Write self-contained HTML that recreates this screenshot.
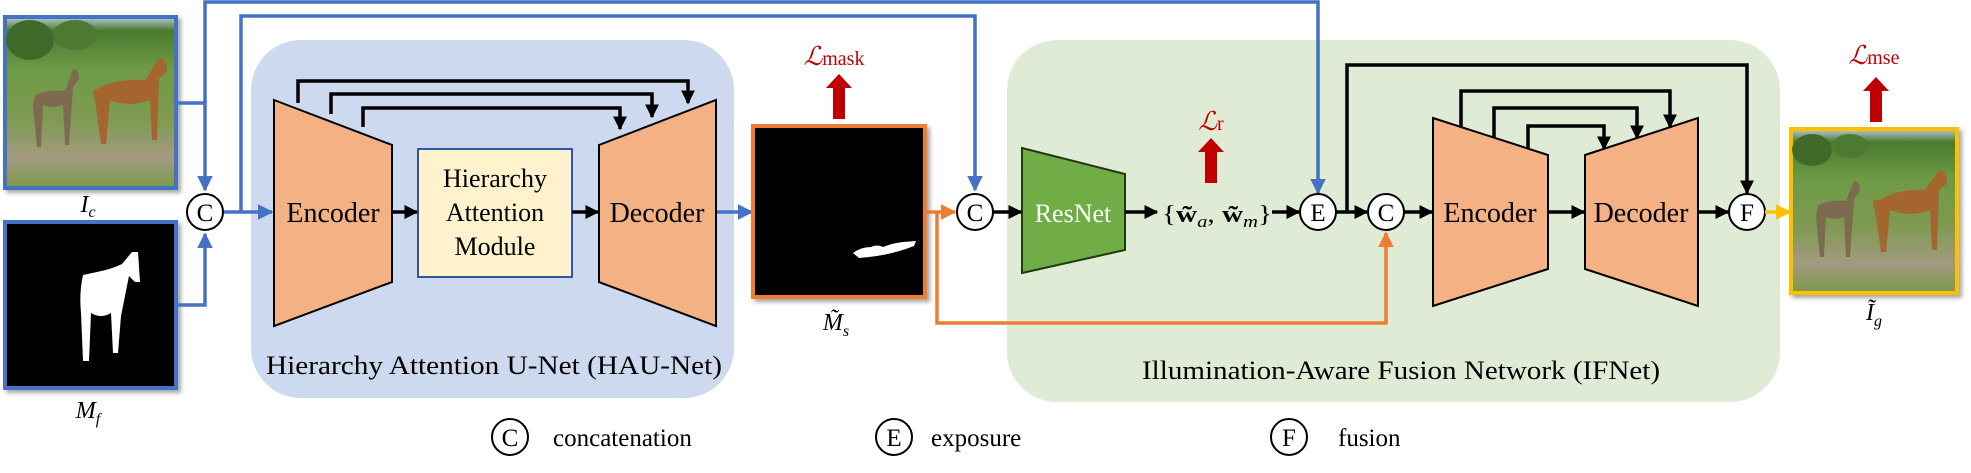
<!DOCTYPE html>
<html><head><meta charset="utf-8"><style>
html,body{margin:0;padding:0;background:#fff;}
svg{display:block;}
svg text, svg tspan{font-family:"Liberation Serif","DejaVu Serif",serif;}
</style></head><body>
<svg width="1971" height="473" viewBox="0 0 1971 473" xmlns="http://www.w3.org/2000/svg" font-family="Liberation Serif, serif">
<defs>
<marker id="ab" viewBox="0 0 10 10" refX="9" refY="5" markerWidth="4" markerHeight="4" orient="auto"><path d="M0,0L10,5L0,10z" fill="#000"/></marker>
<marker id="abl" viewBox="0 0 10 10" refX="9" refY="5" markerWidth="4.5" markerHeight="4.5" orient="auto"><path d="M0,0L10,5L0,10z" fill="#4472c4"/></marker>
<marker id="aor" viewBox="0 0 10 10" refX="9" refY="5" markerWidth="4.5" markerHeight="4.5" orient="auto"><path d="M0,0L10,5L0,10z" fill="#ed7d31"/></marker>
<marker id="ay" viewBox="0 0 10 10" refX="9" refY="5" markerWidth="4.5" markerHeight="4.5" orient="auto"><path d="M0,0L10,5L0,10z" fill="#ffc000"/></marker>
<linearGradient id="grass" x1="0" y1="0" x2="0" y2="1">
<stop offset="0" stop-color="#b8c9d6"/><stop offset="0.08" stop-color="#4a7a30"/><stop offset="0.3" stop-color="#6d9a45"/><stop offset="0.6" stop-color="#7f9a52"/><stop offset="0.82" stop-color="#a39a80"/><stop offset="1" stop-color="#7a9a4a"/></linearGradient>
<filter id="sh" x="-10%" y="-10%" width="130%" height="130%"><feDropShadow dx="3" dy="3" stdDeviation="2" flood-color="#000" flood-opacity="0.35"/></filter>
</defs>

<rect x="251" y="40" width="483" height="358" rx="50" fill="#cdd9ee"/>
<rect x="1007" y="40" width="773" height="362" rx="50" fill="#e0ebd5"/>

<g filter="url(#sh)">
<rect x="5" y="17" width="171" height="171" fill="url(#grass)" stroke="#4472c4" stroke-width="4"/>
<ellipse cx="30" cy="40" rx="24" ry="20" fill="#3f6b2a"/><ellipse cx="75" cy="35" rx="22" ry="15" fill="#4d7a33"/>
<path d="M95,90 q20,-12 50,-10 l14,-22 q8,0 8,14 l-8,6 l-2,62 h-5 l-2,-40 q-20,8 -40,0 l-4,44 h-5 l-6,-44 q-4,-8 0,-10z" fill="#a5652e"/>
<path d="M35,95 q15,-6 30,-4 l8,-22 q6,0 6,10 l-6,8 l-4,58 h-4 l-2,-40 q-10,4 -20,0 l-2,42 h-4 l-4,-42z" fill="#7e6a4f"/>
</g>
<text x="88" y="212" font-size="24" font-style="italic" text-anchor="middle">I<tspan font-size="16" dy="5">c</tspan></text>

<g filter="url(#sh)">
<rect x="5" y="222" width="171" height="166" fill="#000" stroke="#4472c4" stroke-width="4"/>
<path d="M97,272 q15,-3 25,-8 l10,-12 h6 l2,30 h-5 l-6,-6 l-8,40 l-3,37 h-5 l-2,-40 q-10,6 -20,0 l-2,48 h-6 l-2,-48 q-2,-20 2,-38z" fill="#fff"/>
</g>
<text x="88" y="418" font-size="24" font-style="italic" text-anchor="middle">M<tspan font-size="16" dy="6">f</tspan></text>

<g fill="none" stroke="#4472c4" stroke-width="3.5">
<polyline points="177,103 205,103 205,190" marker-end="url(#abl)"/>
<polyline points="177,305 205,305 205,234" marker-end="url(#abl)"/>
<polyline points="205,103 205,2 1318,2 1318,193" marker-end="url(#abl)"/>
<polyline points="241,212 241,16 975,16 975,190" marker-end="url(#abl)"/>
<line x1="224" y1="212" x2="272" y2="212" marker-end="url(#abl)"/>
<line x1="716" y1="212" x2="752" y2="212" marker-end="url(#abl)"/>
</g>

<polygon points="274,100 392,145 392,282 274,326" fill="#f4b183" stroke="#000" stroke-width="2"/>
<text x="333" y="222" font-size="28" text-anchor="middle">Encoder</text>
<rect x="418" y="149" width="154" height="128" fill="#fff2cc" stroke="#2f55a4" stroke-width="2"/>
<text font-size="26" text-anchor="middle"><tspan x="495" y="187">Hierarchy</tspan><tspan x="495" y="221">Attention</tspan><tspan x="495" y="255">Module</tspan></text>
<polygon points="599,145 716,100 716,326 599,282" fill="#f4b183" stroke="#000" stroke-width="2"/>
<text x="657" y="222" font-size="28" text-anchor="middle">Decoder</text>
<g fill="none" stroke="#000" stroke-width="3.5">
<polyline points="298,103 298,81 688,81 688,103" marker-end="url(#ab)"/>
<polyline points="331,114 331,94 652,94 652,117" marker-end="url(#ab)"/>
<polyline points="363,127 363,108 620,108 620,129" marker-end="url(#ab)"/>
<line x1="392" y1="212" x2="417" y2="212" marker-end="url(#ab)"/>
<line x1="572" y1="212" x2="598" y2="212" marker-end="url(#ab)"/>
</g>
<text x="494" y="374" font-size="26" text-anchor="middle" textLength="456" lengthAdjust="spacingAndGlyphs">Hierarchy Attention U-Net (HAU-Net)</text>

<g filter="url(#sh)">
<rect x="753" y="126" width="172" height="171" fill="#000" stroke="#ed7d31" stroke-width="4"/>
<path d="M853,253 q8,-6 18,-6 q6,-3 12,0 q10,-4 20,-5 l13,-1 l-2,5 q-25,10 -55,12z" fill="#fff"/>
</g>
<text x="836" y="330" font-size="24" font-style="italic" text-anchor="middle">M̃<tspan font-size="16" dy="6">s</tspan></text>
<g>
<text x="834" y="65" font-size="26" fill="#c00000" text-anchor="middle" font-style="italic">ℒ<tspan font-style="normal" font-size="20">mask</tspan></text>
<polygon points="833,119 845,119 845,88 852,88 839,74 826,88 833,88" fill="#c00000"/>
</g>

<g fill="none" stroke="#ed7d31" stroke-width="3.5">
<line x1="926" y1="212" x2="955" y2="212" marker-end="url(#aor)"/>
<polyline points="937,212 937,323 1386,323 1386,233" marker-end="url(#aor)"/>
</g>

<g fill="#fff" stroke="#000" stroke-width="2">
<circle cx="205" cy="212" r="18"/><circle cx="975" cy="212" r="18"/><circle cx="1318" cy="212" r="18"/><circle cx="1386" cy="212" r="18"/><circle cx="1747" cy="212" r="18"/>
<circle cx="510" cy="437" r="18"/><circle cx="894" cy="437" r="18"/><circle cx="1289" cy="437" r="18"/>
</g>
<g font-size="25" text-anchor="middle">
<text x="205" y="221">C</text><text x="975" y="221">C</text><text x="1318" y="221">E</text><text x="1386" y="221">C</text><text x="1747" y="221">F</text>
<text x="510" y="446">C</text><text x="894" y="446">E</text><text x="1289" y="446">F</text>
</g>

<polygon points="1022,148 1125,174 1125,250 1022,273" fill="#70ad47" stroke="#1f3a10" stroke-width="2"/>
<text x="1073" y="222" font-size="26" fill="#fff" text-anchor="middle">ResNet</text>
<text x="1162" y="222" font-size="24" textLength="110" lengthAdjust="spacingAndGlyphs">{<tspan font-weight="bold">w̃</tspan><tspan font-style="italic" font-size="17" dy="5">a</tspan><tspan dy="-5">, </tspan><tspan font-weight="bold">w̃</tspan><tspan font-style="italic" font-size="17" dy="5">m</tspan><tspan dy="-5">}</tspan></text>
<g>
<text x="1211" y="130" font-size="26" fill="#c00000" text-anchor="middle" font-style="italic">ℒ<tspan font-style="normal" font-size="20">r</tspan></text>
<polygon points="1205,183 1217,183 1217,152 1224,152 1211,138 1198,152 1205,152" fill="#c00000"/>
</g>

<polygon points="1433,118 1548,155 1548,269 1433,306" fill="#f4b183" stroke="#000" stroke-width="2"/>
<text x="1490" y="222" font-size="28" text-anchor="middle">Encoder</text>
<polygon points="1585,155 1698,118 1698,306 1585,269" fill="#f4b183" stroke="#000" stroke-width="2"/>
<text x="1641" y="222" font-size="28" text-anchor="middle">Decoder</text>
<g fill="none" stroke="#000" stroke-width="3.5">
<line x1="993" y1="212" x2="1021" y2="212" marker-end="url(#ab)"/>
<line x1="1125" y1="212" x2="1157" y2="212" marker-end="url(#ab)"/>
<line x1="1272" y1="212" x2="1299" y2="212" marker-end="url(#ab)"/>
<line x1="1336" y1="212" x2="1367" y2="212" marker-end="url(#ab)"/>
<line x1="1404" y1="212" x2="1432" y2="212" marker-end="url(#ab)"/>
<line x1="1548" y1="212" x2="1584" y2="212" marker-end="url(#ab)"/>
<line x1="1698" y1="212" x2="1728" y2="212" marker-end="url(#ab)"/>
<polyline points="1347,212 1347,65 1747,65 1747,193" marker-end="url(#ab)"/>
<polyline points="1461,127 1461,91 1670,91 1670,127" marker-end="url(#ab)"/>
<polyline points="1494,138 1494,108 1637,108 1637,138" marker-end="url(#ab)"/>
<polyline points="1528,149 1528,126 1604,126 1604,149" marker-end="url(#ab)"/>
</g>
<text x="1401" y="379" font-size="26" text-anchor="middle" textLength="518" lengthAdjust="spacingAndGlyphs">Illumination-Aware Fusion Network (IFNet)</text>

<line x1="1765" y1="212" x2="1790" y2="212" stroke="#ffc000" stroke-width="3.5" marker-end="url(#ay)"/>
<g filter="url(#sh)">
<rect x="1791" y="129" width="166" height="164" fill="url(#grass)" stroke="#ffc000" stroke-width="4"/>
<ellipse cx="1812" cy="150" rx="20" ry="16" fill="#3f6b2a"/><ellipse cx="1850" cy="146" rx="18" ry="12" fill="#4d7a33"/>
<path d="M1880,200 q20,-12 45,-10 l14,-20 q8,0 8,14 l-8,6 l-2,60 h-5 l-2,-40 q-20,8 -40,0 l-4,42 h-5 l-6,-42 q-4,-8 0,-10z" fill="#a5652e"/>
<path d="M1818,205 q15,-6 28,-4 l8,-20 q6,0 6,10 l-6,8 l-4,58 h-4 l-2,-40 q-10,4 -18,0 l-2,40 h-4 l-4,-40z" fill="#7e6a4f"/>
</g>
<text x="1874" y="320" font-size="24" font-style="italic" text-anchor="middle">Ĩ<tspan font-size="16" dy="6">g</tspan></text>
<g>
<text x="1874" y="64" font-size="26" fill="#c00000" text-anchor="middle" font-style="italic">ℒ<tspan font-style="normal" font-size="20">mse</tspan></text>
<polygon points="1870,122 1882,122 1882,91 1889,91 1876,77 1863,91 1870,91" fill="#c00000"/>
</g>

<text x="553" y="446" font-size="25">concatenation</text>
<text x="931" y="446" font-size="25">exposure</text>
<text x="1338" y="446" font-size="25">fusion</text>
</svg>
</body></html>
